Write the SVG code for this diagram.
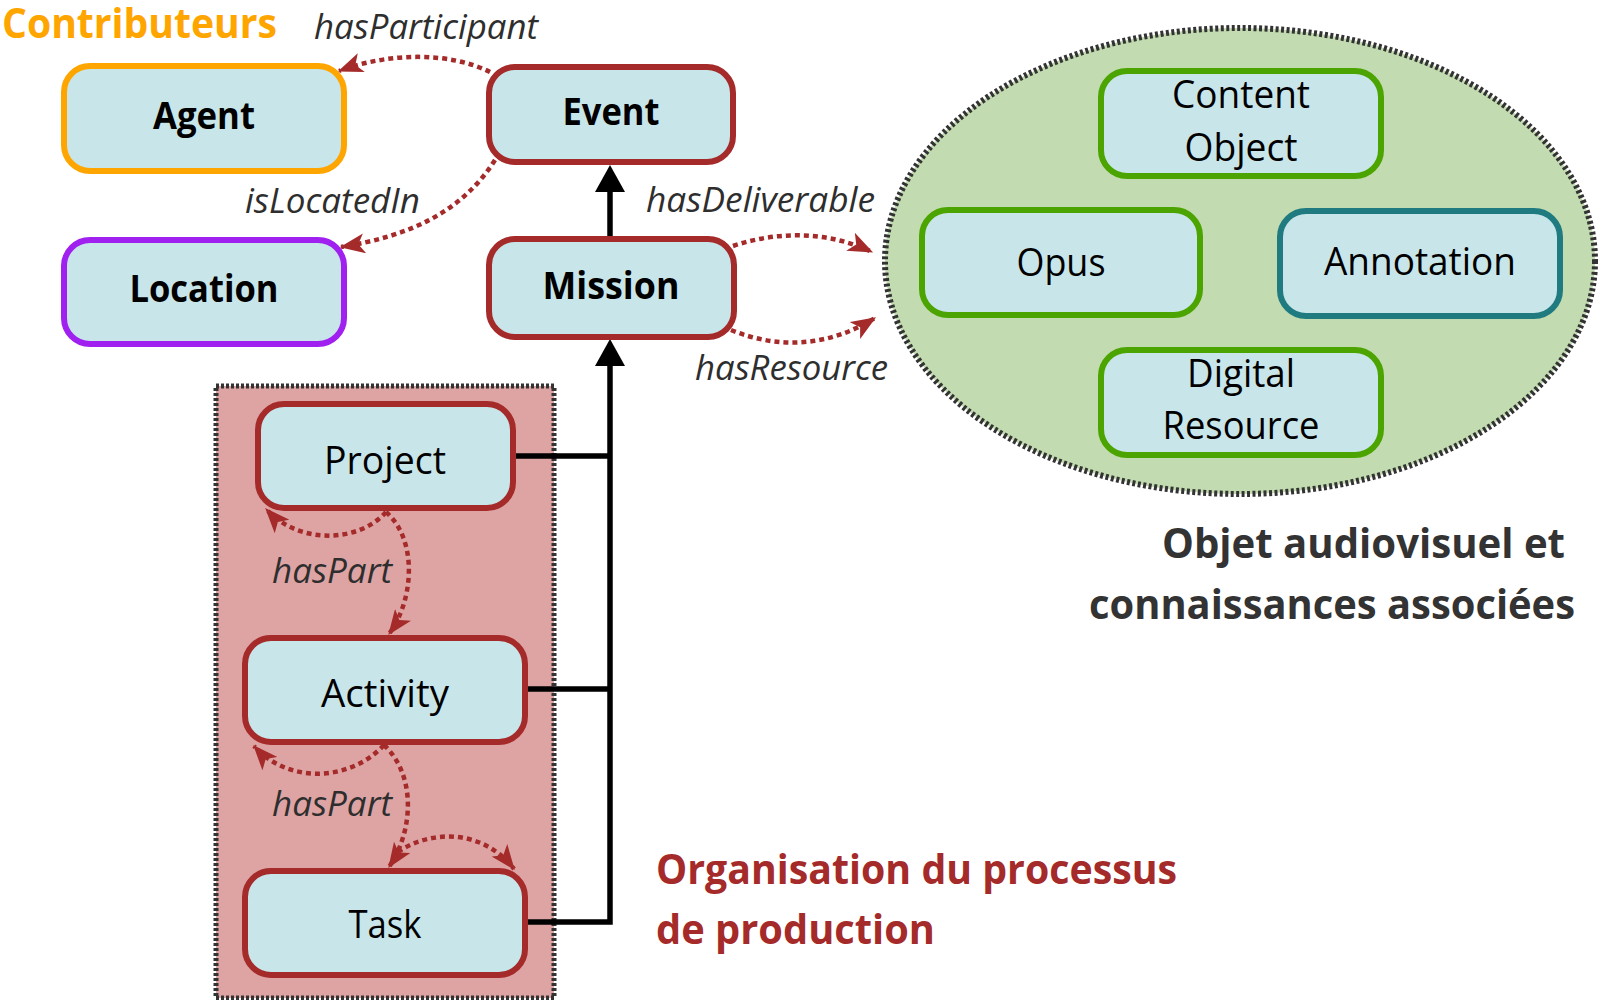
<svg xmlns="http://www.w3.org/2000/svg" width="1600" height="1000" viewBox="0 0 1600 1000">
<defs>
<style>
.node{fill:#c8e6ea;stroke-width:6}
.br{stroke:#a52a2a}
.gr{stroke:#4ba400}
.t{font-family:"Open Sans","Noto Sans","Liberation Sans",sans-serif;font-size:38px;fill:#000;text-anchor:middle}
.b{font-weight:bold}
.lbl{font-family:"Open Sans","Noto Sans","Liberation Sans",sans-serif;font-size:34px;font-style:italic;fill:#2e2e2e}
.title{font-family:"Open Sans","Noto Sans","Liberation Sans",sans-serif;font-weight:bold;font-size:42px}
.dot{fill:none;stroke:#a52a2a;stroke-width:4.5;stroke-dasharray:5 4;marker-end:url(#ah)}
.blk{fill:none;stroke:#000;stroke-width:5.5}
</style>
<marker id="ah" viewBox="0 0 20 16" refX="19" refY="8" markerWidth="25" markerHeight="20" orient="auto" markerUnits="userSpaceOnUse">
<path d="M0,0 L20,8 L0,16 L5,8 z" fill="#a52a2a"/>
</marker>
</defs>
<rect width="1600" height="1000" fill="#fff"/>

<!-- containers -->
<g id="production-group">
<rect x="216" y="386" width="338" height="612" fill="#dea4a4" stroke="#333" stroke-width="5" stroke-dasharray="3 2"/>
</g>
<g id="objet-group">
<ellipse cx="1240" cy="261" rx="355" ry="233" fill="#c2dbb0" stroke="#333" stroke-width="6" stroke-dasharray="3 2.5"/>
</g>

<!-- titles -->
<text class="title" x="2" y="38" fill="#ffa500" textLength="275" lengthAdjust="spacingAndGlyphs" font-size="39">Contributeurs</text>
<text class="title" x="1162" y="558" fill="#333" textLength="403" lengthAdjust="spacingAndGlyphs">Objet audiovisuel et</text>
<text class="title" x="1089" y="619" fill="#333" textLength="486" lengthAdjust="spacingAndGlyphs">connaissances associées</text>
<text class="title" x="656" y="884" fill="#a52a2a" textLength="521" lengthAdjust="spacingAndGlyphs">Organisation du processus</text>
<text class="title" x="656" y="944" fill="#a52a2a" textLength="279" lengthAdjust="spacingAndGlyphs">de production</text>

<!-- connectors -->
<g id="connectors">
<path class="blk" d="M610 237 V188"/>
<polygon points="610,165 595,192 625,192" fill="#000"/>
<path class="blk" d="M512 456 H610 M524 689 H610 M524 922 H610 V362"/>
<polygon points="610,339 595,366 625,366" fill="#000"/>
<path class="dot" d="M490 72 C450 52 390 52 339 71"/>
<path class="dot" d="M495 160 C462 212 410 236 341 247"/>
<path class="dot" d="M733 246 C780 230 830 232 872 252"/>
<path class="dot" d="M731 330 C780 350 830 346 875 318"/>
<path class="dot" d="M386 512 C360 542 300 546 266 509"/>
<path class="dot" d="M386 512 C418 540 414 600 389 634"/>
<path class="dot" d="M384 745 C352 780 290 786 254 746"/>
<path class="dot" d="M384 745 C416 775 414 830 389 867"/>
<path class="dot" d="M398 852 C430 830 482 828 514 869"/>
</g>

<!-- labels -->
<text class="lbl" x="314" y="39" textLength="224" lengthAdjust="spacingAndGlyphs">hasParticipant</text>
<text class="lbl" x="245" y="213" textLength="175" lengthAdjust="spacingAndGlyphs">isLocatedIn</text>
<text class="lbl" x="646" y="212" textLength="229" lengthAdjust="spacingAndGlyphs">hasDeliverable</text>
<text class="lbl" x="695" y="380" textLength="193" lengthAdjust="spacingAndGlyphs">hasResource</text>
<text class="lbl" x="272" y="583" textLength="120" lengthAdjust="spacingAndGlyphs">hasPart</text>
<text class="lbl" x="272" y="816" textLength="120" lengthAdjust="spacingAndGlyphs">hasPart</text>

<!-- nodes -->
<g id="agent">
<rect class="node" x="64" y="66" width="280" height="105" rx="26" stroke="#ffa500"/>
<text class="t b" x="204" y="129" textLength="102" lengthAdjust="spacingAndGlyphs">Agent</text>
</g>
<g id="location">
<rect class="node" x="64" y="240" width="280" height="104" rx="26" stroke="#a020f0"/>
<text class="t b" x="204" y="302" textLength="149" lengthAdjust="spacingAndGlyphs">Location</text>
</g>
<g id="event">
<rect class="node br" x="489" y="67" width="244" height="95" rx="26"/>
<text class="t b" x="611" y="125" textLength="97" lengthAdjust="spacingAndGlyphs">Event</text>
</g>
<g id="mission">
<rect class="node br" x="489" y="239" width="245" height="98" rx="26"/>
<text class="t b" x="611" y="299" textLength="137" lengthAdjust="spacingAndGlyphs">Mission</text>
</g>
<g id="project">
<rect class="node br" x="258" y="404" width="255" height="104" rx="26"/>
<text class="t" x="385" y="474" textLength="122" lengthAdjust="spacingAndGlyphs">Project</text>
</g>
<g id="activity">
<rect class="node br" x="245" y="638" width="280" height="104" rx="26"/>
<text class="t" x="385" y="707" textLength="128" lengthAdjust="spacingAndGlyphs">Activity</text>
</g>
<g id="task">
<rect class="node br" x="245" y="871" width="280" height="104" rx="26"/>
<text class="t" x="385" y="938" textLength="73" lengthAdjust="spacingAndGlyphs">Task</text>
</g>
<g id="content-object">
<rect class="node gr" x="1101" y="71" width="280" height="105" rx="26"/>
<text class="t" x="1241" y="108" textLength="138" lengthAdjust="spacingAndGlyphs">Content</text>
<text class="t" x="1241" y="161" textLength="113" lengthAdjust="spacingAndGlyphs">Object</text>
</g>
<g id="opus">
<rect class="node gr" x="922" y="210" width="278" height="105" rx="26"/>
<text class="t" x="1061" y="276" textLength="89" lengthAdjust="spacingAndGlyphs">Opus</text>
</g>
<g id="annotation">
<rect class="node" x="1280" y="211" width="280" height="105" rx="26" stroke="#1f7b80"/>
<text class="t" x="1420" y="275" textLength="192" lengthAdjust="spacingAndGlyphs">Annotation</text>
</g>
<g id="digital-resource">
<rect class="node gr" x="1101" y="350" width="280" height="105" rx="26"/>
<text class="t" x="1241" y="387" textLength="108" lengthAdjust="spacingAndGlyphs">Digital</text>
<text class="t" x="1241" y="439" textLength="157" lengthAdjust="spacingAndGlyphs">Resource</text>
</g>
</svg>
